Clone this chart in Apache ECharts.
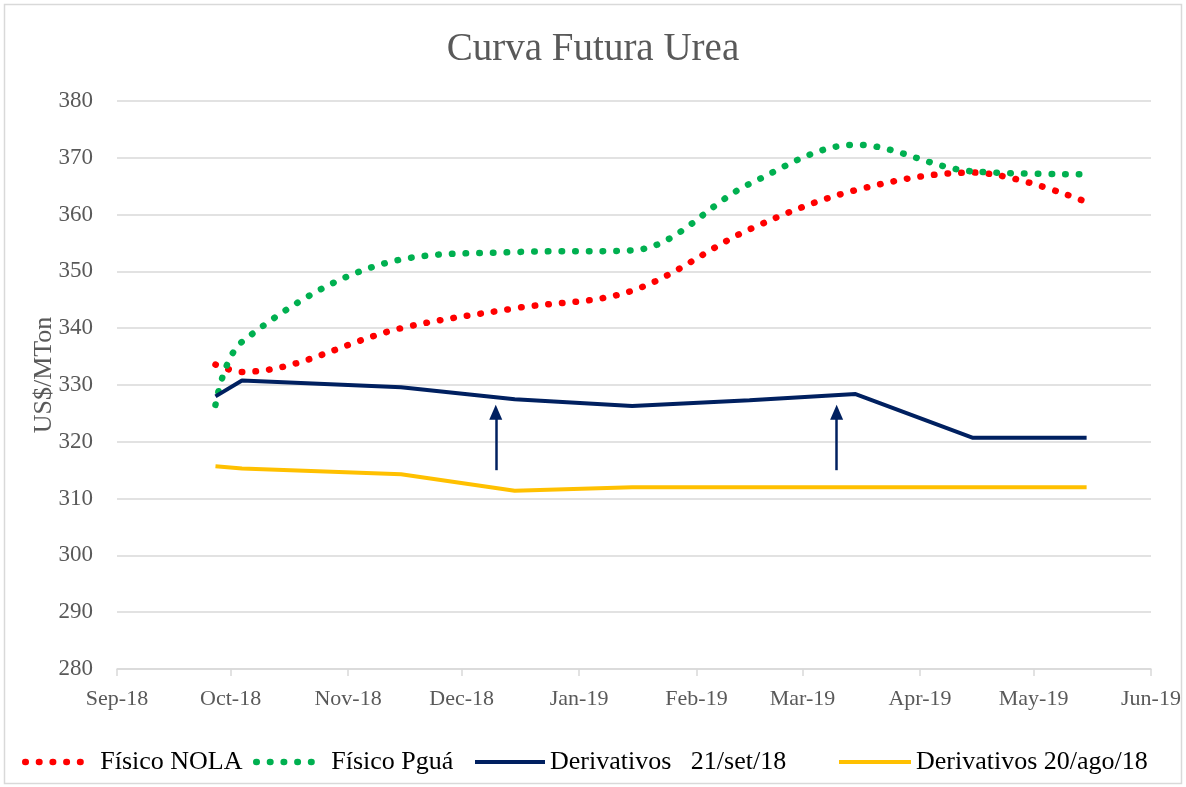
<!DOCTYPE html>
<html>
<head>
<meta charset="utf-8">
<script src="https://cdn.jsdelivr.net/npm/echarts@6/dist/echarts.min.js"></script>
<style>
  html, body { margin: 0; padding: 0; background: #fff; }
  #chart { width: 1186px; height: 787px; }
</style>
</head>
<body>
<div id="chart"></div>
<script>
// dates of the curve points
const dates = ["2018-09-27", "2018-10-04", "2018-11-15", "2018-12-15", "2019-01-15",
  "2019-02-15", "2019-03-15", "2019-04-15", "2019-05-15"];
const fisicoNola = [333.6, 332.3, 340.0, 343.5, 346.6, 357.4, 364.3, 367.4, 362.2];
const fisicoPgua = [326.5, 337.6, 352.1, 353.4, 353.7, 365.4, 372.3, 367.6, 367.1];
const deriv21set = [328.0, 330.8, 329.6, 327.5, 326.3, 327.3, 328.4, 320.7, 320.7];
const deriv20ago = [315.7, 315.3, 314.3, 311.4, 312.0, 312.0, 312.0, 312.0, 312.0];
const seriesNames = ["Físico NOLA", "Físico Pguá", "Derivativos   21/set/18", "Derivativos 20/ago/18"];
// arrows drawn on the chart
const arrowDates = ["2018-12-10", "2019-03-10"];
const arrowFrom = 315;
const arrowTo = 325.2;
const monthNames = ["Jan", "Feb", "Mar", "Apr", "May", "Jun", "Jul", "Aug", "Sep", "Oct", "Nov", "Dec"];

const FONT = "Liberation Serif";
const GREY = "#595959";
const RED = "#FF0000", GREEN = "#00B050", NAVY = "#002060", YELLOW = "#FFC000";

function toTime(s) {
  const p = s.split("-").map(Number);
  return new Date(p[0], p[1] - 1, p[2]).getTime();
}
function pairs(vals) {
  return vals.map((v, i) => [toTime(dates[i]), v]);
}

const chart = echarts.init(document.getElementById("chart"));
const dotted = (color) => ({
  color: color,
  width: 6.5,
  type: [0.5, 13.2],
  cap: "round",
});

// one legend block per series so each sits where the original has it
const legendLefts = [17, 248, 468, 832];
const legendWidths = [64, 64, 70, 72];
const legendPads = [6, 6, 0, 0];
const legendLineWidths = [6.5, 6.5, 4, 4];
const legends = seriesNames.map((name, i) => ({
  data: [name],
  left: legendLefts[i],
  top: 744,
  itemWidth: legendWidths[i],
  itemHeight: 16,
  itemStyle: { color: "transparent", borderWidth: 0 },
  lineStyle: { width: legendLineWidths[i] },
  textStyle: { fontFamily: FONT, fontSize: 26, color: "#000", padding: [0, 0, 0, legendPads[i]] },
}));

chart.setOption({
  animation: false,
  title: {
    text: "Curva Futura Urea",
    left: "center",
    top: 25,
    textStyle: { fontFamily: FONT, fontSize: 39, fontWeight: "normal", color: GREY },
  },
  grid: { left: 117, right: 35, top: 101, bottom: 118 },
  legend: legends,
  xAxis: {
    type: "time",
    min: toTime("2018-09-01"),
    max: toTime("2019-06-01"),
    minInterval: 28 * 86400000,
    maxInterval: 31 * 86400000,
    splitLine: { show: false },
    axisLine: { lineStyle: { color: "#d9d9d9", width: 1.5 } },
    axisTick: { show: true, length: 7, lineStyle: { color: "#d9d9d9", width: 1.5 } },
    axisLabel: {
      fontFamily: FONT,
      fontSize: 22,
      color: GREY,
      margin: 19,
      showMinLabel: true,
      showMaxLabel: true,
      formatter: (val) => {
        const d = new Date(val);
        return monthNames[d.getMonth()] + "-" + String(d.getFullYear()).slice(2);
      },
    },
  },
  yAxis: {
    type: "value",
    min: 280,
    max: 380,
    interval: 10,
    name: "US$/MTon",
    nameLocation: "middle",
    nameGap: 60,
    nameMoveOverlap: false,
    nameTextStyle: { fontFamily: FONT, fontSize: 26, color: GREY, padding: [0, 0, 0, 20] },
    axisLine: { show: false },
    axisTick: { show: false },
    splitLine: { lineStyle: { color: "#d9d9d9", width: 1.5 } },
    axisLabel: { fontFamily: FONT, fontSize: 23, color: GREY, margin: 24 },
  },
  series: [
    {
      name: seriesNames[0],
      type: "line",
      smooth: 0.35,
      symbol: "none",
      color: RED,
      lineStyle: dotted(RED),
      data: pairs(fisicoNola),
    },
    {
      name: seriesNames[1],
      type: "line",
      smooth: 0.35,
      symbol: "none",
      color: GREEN,
      lineStyle: dotted(GREEN),
      data: pairs(fisicoPgua),
    },
    {
      name: seriesNames[2],
      type: "line",
      symbol: "none",
      color: NAVY,
      lineStyle: { color: NAVY, width: 4 },
      data: pairs(deriv21set),
      markLine: {
        silent: true,
        symbol: ["none", "triangle"],
        symbolSize: [13, 15],
        label: { show: false },
        lineStyle: { color: NAVY, width: 2.5, type: "solid" },
        data: arrowDates.map((d) => [
          { coord: [toTime(d), arrowFrom] },
          { coord: [toTime(d), arrowTo] },
        ]),
      },
    },
    {
      name: seriesNames[3],
      type: "line",
      symbol: "none",
      color: YELLOW,
      lineStyle: { color: YELLOW, width: 4 },
      data: pairs(deriv20ago),
    },
  ],
  graphic: [
    {
      type: "rect",
      silent: true,
      shape: { x: 4.5, y: 4.5, width: 1177, height: 779 },
      style: { fill: null, stroke: "#d9d9d9", lineWidth: 1.5 },
    },
  ],
});
</script>
</body>
</html>
